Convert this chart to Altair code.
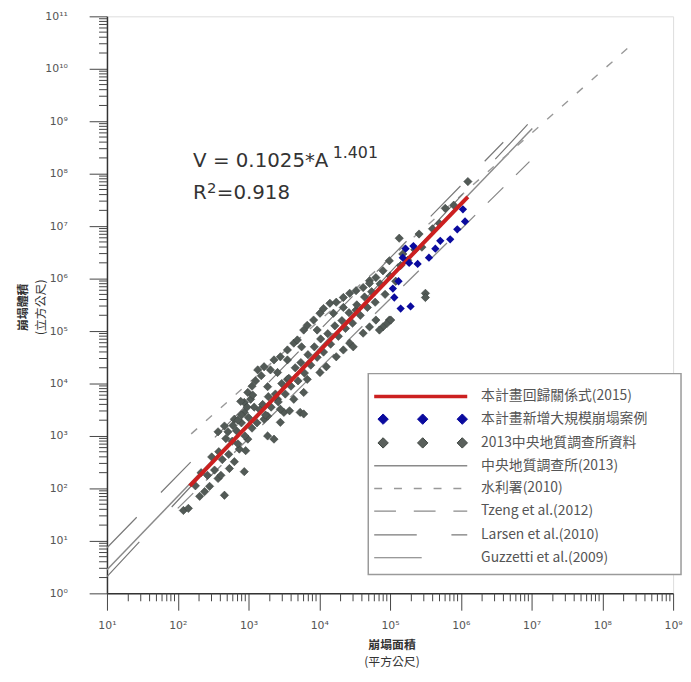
import altair as alt
import pandas as pd

# ---------------- values (log10 units) ----------------
X_DOMAIN = [10, 10**9]          # area axis 10^1 .. 10^9
Y_DOMAIN = [1, 10**11]          # volume axis 10^0 .. 10^11

# 2013 中央地質調查所資料 (gray diamonds): (log10 A, log10 V)
GRAY_PTS = [
    (2.08, 1.58), (2.15, 1.62), (2.31, 1.85), (2.38, 1.94), (2.45, 2.04), (2.57, 2.19),
    (2.66, 1.87), (2.61, 2.25), (2.73, 2.38), (2.80, 2.51), (2.87, 2.75), (2.96, 2.72),
    (2.99, 2.94), (2.71, 3.08), (2.80, 3.32), (2.94, 3.45), (3.03, 3.70), (2.99, 3.83),
    (3.22, 3.32), (3.27, 3.00), (3.36, 2.94), (3.45, 3.26), (3.50, 3.45), (3.41, 3.70),
    (3.27, 3.94), (3.55, 4.08), (3.73, 3.45), (2.94, 2.32),
    (3.13, 4.26), (3.22, 4.32), (3.31, 4.26), (3.36, 4.45), (3.45, 4.51), (3.55, 4.64),
    (3.64, 4.77), (3.69, 4.83), (3.78, 5.02), (3.83, 5.11), (3.92, 5.21), (4.01, 5.34),
    (4.06, 5.43), (4.15, 5.53), (4.24, 5.55), (4.34, 5.64), (4.43, 5.72), (4.52, 5.77),
    (4.62, 5.83), (4.71, 5.96), (4.80, 6.02), (4.20, 5.34), (3.97, 5.02), (3.75, 4.70),
    (3.55, 4.45), (3.41, 4.21), (3.06, 3.78), (2.94, 3.64),
    (3.27, 3.38), (3.45, 3.51), (3.64, 3.70), (3.78, 3.83), (3.83, 4.08), (4.01, 4.21),
    (4.10, 4.32), (4.24, 4.51), (4.34, 4.64), (4.43, 4.77), (4.48, 4.70), (4.62, 4.96),
    (4.71, 5.08), (4.80, 5.21), (4.90, 5.08), (4.99, 5.21), (4.85, 5.02), (3.58, 3.48),
    (3.78, 3.42), (5.50, 5.72), (4.96, 5.15), (2.89, 3.66), (2.66, 3.19), (2.57, 3.08),
    (4.34, 5.45), (4.52, 5.40), (4.71, 5.91), (4.90, 6.15), (4.99, 6.34), (5.18, 6.47),
    (5.13, 6.77), (5.41, 6.85), (5.78, 7.34), (5.50, 5.64), (5.01, 5.21), (6.10, 7.85),
    (2.25, 2.05), (2.33, 2.30), (2.42, 2.25), (2.48, 2.60), (2.52, 2.35), (2.58, 2.70),
    (2.63, 2.55), (2.68, 2.95), (2.72, 2.65), (2.77, 2.90), (2.83, 3.10), (2.85, 2.85),
    (2.90, 3.25), (2.95, 3.00), (3.00, 3.35), (3.05, 3.15), (3.08, 3.55), (3.12, 3.25),
    (3.16, 3.50), (3.20, 3.60), (3.24, 3.40), (3.28, 3.75), (3.32, 3.55), (3.38, 3.80),
    (3.42, 3.65), (3.47, 4.00), (3.52, 3.80), (3.57, 4.10), (3.60, 3.95), (3.66, 4.30),
    (3.70, 4.05), (3.74, 4.40), (3.79, 4.20), (3.84, 4.55), (3.88, 4.35), (3.93, 4.70),
    (3.97, 4.50), (4.02, 4.85), (4.06, 4.60), (4.12, 4.95), (4.16, 4.75), (4.22, 5.10),
    (4.27, 4.90), (4.32, 5.20), (4.37, 5.05), (4.42, 5.35), (4.47, 5.15), (4.53, 5.50),
    (4.58, 5.30), (4.64, 5.65), (4.68, 5.45), (4.74, 5.75), (4.79, 5.55), (4.86, 5.90),
    (4.93, 5.70), (5.00, 6.05), (5.08, 5.95), (5.15, 6.25), (5.25, 6.35), (5.35, 6.55),
    (5.45, 6.60), (5.60, 6.95), (5.70, 7.05), (5.90, 7.40),
    (3.05, 3.95), (3.10, 4.05), (3.18, 4.15), (2.98, 3.55), (2.90, 3.40), (2.85, 3.30),
    (2.78, 3.20),
]

# 本計畫新增大規模崩塌案例 (blue diamonds)
BLUE_PTS = [
    (5.22, 6.57), (5.18, 6.40), (5.27, 6.30), (5.39, 6.28), (5.55, 6.40), (5.64, 6.57),
    (5.04, 5.81), (5.06, 5.64), (5.15, 5.43), (5.29, 5.47), (6.03, 7.32), (6.06, 7.09),
    (5.71, 6.72), (5.85, 6.75), (5.95, 6.94), (5.33, 6.62), (5.12, 5.95),
]

# line end points (log10 A, log10 V)
RED_FIT_LOGA = [2.17, 6.10]
RED_FIT_LOGV = [2.05, 7.56]
CGS_LOGA, CGS_LOGV = [1.0, 7.01], [0.45, 8.86]          # 中央地質調查所(2013)
WRA_LOGA, WRA_LOGV = [2.19, 8.44], [3.04, 10.49]        # 水利署(2010)
TZENG_LOGA, TZENG_LOGV = [2.0, 6.97], [1.62, 8.23]      # Tzeng et al.(2012)
LARSEN_LOGA, LARSEN_LOGV = [1.0, 6.6], [0.87, 8.6]      # Larsen et al.(2010)
GUZZ_LOGA, GUZZ_LOGV = [1.0, 7.0], [0.32, 9.02]         # Guzzetti et al.(2009)

LEGEND_LABELS = [
    "本計畫回歸關係式(2015)",
    "本計畫新增大規模崩塌案例",
    "2013中央地質調查所資料",
    "中央地質調查所(2013)",
    "水利署(2010)",
    "Tzeng et al.(2012)",
    "Larsen et al.(2010)",
    "Guzzetti et al.(2009)",
]
EQ_MAIN = "V = 0.1025*A"
EQ_EXP = "1.401"
R2_R, R2_SUP, R2_VAL = "R", "2", "=0.918"
X_TITLE = ["崩塌面積", "(平方公尺)"]
Y_TITLE = ["崩塌體積", "(立方公尺)"]

# ---------------- chart ----------------
W, H = 572, 583
SUP = {"0": "⁰", "1": "¹", "2": "²", "3": "³", "4": "⁴", "5": "⁵",
       "6": "⁶", "7": "⁷", "8": "⁸", "9": "⁹"}


def major_values(e0, e1):
    return [10**e for e in range(e0, e1 + 1)]


def minor_values(e0, e1):
    return [m * 10**e for e in range(e0, e1) for m in range(2, 10)]


def label_expr(e0, e1):
    parts = []
    for e in range(e0, e1 + 1):
        lab = "10" + "".join(SUP[c] for c in str(e))
        parts.append(f"datum.value == {10**e} ? '{lab}'")
    return " : ".join(parts) + " : ''"


AX_COMMON = dict(
    grid=False, title=None, domainColor="#333", domainWidth=1.5,
    tickColor="#444", tickWidth=1, labelColor="#555", labelFont="DejaVu Sans",
    labelFontSize=11, labelOverlap=False, labelFlush=False, labelBound=False,
)
x_axis = alt.Axis(values=major_values(1, 9), labelExpr=label_expr(1, 9),
                  tickSize=17, labelPadding=10, **AX_COMMON)
y_axis = alt.Axis(values=major_values(0, 11), labelExpr=label_expr(0, 11),
                  tickSize=18, labelPadding=22, **AX_COMMON)

xs = alt.Scale(type="log", domain=X_DOMAIN, nice=False)
ys = alt.Scale(type="log", domain=Y_DOMAIN, nice=False)
X = alt.X("A:Q", scale=xs, axis=x_axis)
Y = alt.Y("V:Q", scale=ys, axis=y_axis)


def pts_df(pts):
    return pd.DataFrame({"A": [10**a for a, v in pts], "V": [10**v for a, v in pts]})


def line_df(la, lv):
    return pd.DataFrame({"A": [10**a for a in la], "V": [10**v for v in lv]})


layers = []

# minor ticks (placed through the log scales)
layers.append(alt.Chart(pd.DataFrame({"A": minor_values(1, 9)})).mark_rule(
    color="#444", strokeWidth=1).encode(x=X, y=alt.value(H), y2=alt.value(H + 8)))
layers.append(alt.Chart(pd.DataFrame({"V": minor_values(0, 11)})).mark_rule(
    color="#444", strokeWidth=1).encode(y=Y, x=alt.value(0), x2=alt.value(-8)))

ref_styles = [
    (CGS_LOGA, CGS_LOGV, "#8a8a8a", 1.5, None),
    (WRA_LOGA, WRA_LOGV, "#999999", 1.4, [8, 12]),
    (TZENG_LOGA, TZENG_LOGV, "#8a8a8a", 1.3, [22, 18]),
    (LARSEN_LOGA, LARSEN_LOGV, "#7a7a7a", 1.2, [43, 35]),
    (GUZZ_LOGA, GUZZ_LOGV, "#777777", 1.2, [48, 48]),
]
for la, lv, col, w, dash in ref_styles:
    kw = dict(color=col, strokeWidth=w, clip=True)
    if dash:
        kw["strokeDash"] = dash
    layers.append(alt.Chart(line_df(la, lv)).mark_line(**kw).encode(x=X, y=Y))

layers.append(alt.Chart(pts_df(GRAY_PTS)).mark_point(
    shape="diamond", filled=True, size=70, color="#525a56", opacity=1,
    stroke="#3d4440", strokeWidth=0.6).encode(x=X, y=Y))
layers.append(alt.Chart(line_df(RED_FIT_LOGA, RED_FIT_LOGV)).mark_line(
    color="#cc2020", strokeWidth=4).encode(x=X, y=Y))
layers.append(alt.Chart(pts_df(BLUE_PTS)).mark_point(
    shape="diamond", filled=True, size=70, color="#0a0a9e", opacity=1).encode(x=X, y=Y))

one = alt.Data(values=[{"k": 1}])


def txt(text, x, y, **kw):
    return alt.Chart(one).mark_text(text=text, **kw).encode(x=alt.value(x), y=alt.value(y))


# equation
EQF = dict(font="DejaVu Sans", color="#333", align="left", baseline="alphabetic")
layers += [
    txt(EQ_MAIN, 87, 152, fontSize=20, **EQF),
    txt(EQ_EXP, 228, 143, fontSize=16, **EQF),
    txt(R2_R, 87, 185, fontSize=20, **EQF),
    txt(R2_SUP, 101, 178, fontSize=15, **EQF),
    txt(R2_VAL, 111, 185, fontSize=20, **EQF),
]

# axis titles
TF = dict(font="Noto Sans CJK TC", fontSize=12, color="#333", align="center", baseline="middle")
layers += [
    txt(X_TITLE[0], 288, 635, fontWeight="bold", **TF),
    txt(X_TITLE[1], 288, 652, **TF),
    txt(Y_TITLE[0], -85, 294, angle=270, fontWeight="bold", **TF),
    txt(Y_TITLE[1], -67, 294, angle=270, **TF),
]

# legend box
layers.append(alt.Chart(one).mark_rect(fill="white", stroke="#9a9a9a", strokeWidth=1.5).encode(
    x=alt.value(264), x2=alt.value(580), y=alt.value(361), y2=alt.value(564)))
row_y = [384, 407, 431, 454, 477, 500, 524, 547]
sx0, sx1, tx = 270, 364, 378
# row 1 red line
layers.append(alt.Chart(one).mark_rule(color="#cc2020", strokeWidth=3.5).encode(
    x=alt.value(sx0), x2=alt.value(sx1), y=alt.value(row_y[0])))
# rows 2,3 diamonds
for r, col, stc in [(1, "#0a0a9e", "#0a0a9e"), (2, "#5a605c", "#3d4440")]:
    for dx in (279, 319, 359):
        layers.append(alt.Chart(one).mark_point(
            shape="diamond", filled=True, size=110, color=col, opacity=1,
            stroke=stc, strokeWidth=1).encode(x=alt.value(dx), y=alt.value(row_y[r])))
# rows 4-8 line samples
leg_lines = [
    (3, "#8a8a8a", 1.5, None),
    (4, "#999999", 1.4, [8, 12]),
    (5, "#8a8a8a", 1.3, [22, 18]),
    (6, "#7a7a7a", 1.2, [43, 35]),
    (7, "#777777", 1.2, [48, 48]),
]
for r, col, w, dash in leg_lines:
    kw = dict(color=col, strokeWidth=w)
    if dash:
        kw["strokeDash"] = dash
    layers.append(alt.Chart(one).mark_rule(**kw).encode(
        x=alt.value(sx0), x2=alt.value(sx1), y=alt.value(row_y[r])))
for r, lab in enumerate(LEGEND_LABELS):
    layers.append(txt(lab, tx, row_y[r], font="Noto Sans CJK TC", fontSize=14,
                      color="#555", align="left", baseline="middle"))

chart = alt.layer(*layers).properties(
    width=W, height=H,
    autosize=alt.AutoSizeParams(type="none"),
    padding={"left": 100, "top": 5, "right": 10, "bottom": 72},
).configure_view(stroke=None).configure(background="white")

chart.save("out.html", embed_options={"renderer": "svg", "actions": False})
